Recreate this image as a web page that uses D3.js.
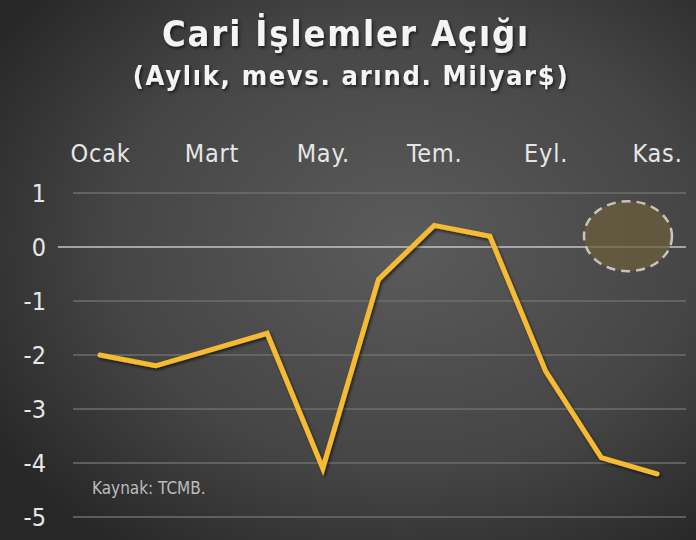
<!DOCTYPE html>
<html>
<head>
<meta charset="utf-8">
<script src="https://cdn.jsdelivr.net/npm/d3@7"></script>
<style>
  html, body { margin: 0; padding: 0; background: #333; }
  svg { display: block; }
</style>
</head>
<body>
<div id="chart"></div>
<script>
// chart data
var months = ['Ocak', 'Şubat', 'Mart', 'Nisan', 'May.', 'Haz.', 'Tem.', 'Ağu.', 'Eyl.', 'Eki.', 'Kas.'];
var deficit = [-2.0, -2.2, -1.9, -1.6, -4.1, -0.6, 0.4, 0.2, -2.3, -3.9, -4.2];
var monthTicks = ['Ocak', 'Mart', 'May.', 'Tem.', 'Eyl.', 'Kas.'];
var yTicks = [1, 0, -1, -2, -3, -4, -5];

var svgWidth = 696;
var svgHeight = 540;

var svg = d3.select('#chart')
    .append('svg')
    .attr('width', svgWidth)
    .attr('height', svgHeight);

var defs = svg.append('defs');

// dark radial background
var grad = defs.append('radialGradient')
    .attr('id', 'bg')
    .attr('cx', '58%').attr('cy', '45%').attr('r', '70%');
grad.append('stop').attr('offset', '0%').attr('stop-color', '#5b5b5b');
grad.append('stop').attr('offset', '60%').attr('stop-color', '#454545');
grad.append('stop').attr('offset', '100%').attr('stop-color', '#272727');

var shadow = defs.append('filter').attr('id', 'shadow')
    .attr('x', '-10%').attr('y', '-20%').attr('width', '120%').attr('height', '150%');
shadow.append('feDropShadow')
    .attr('dx', 1.5).attr('dy', 2).attr('stdDeviation', 1.5)
    .attr('flood-color', '#000').attr('flood-opacity', 0.6);

svg.append('rect')
    .attr('width', svgWidth).attr('height', svgHeight)
    .attr('fill', 'url(#bg)');

// scales
var x = d3.scalePoint().domain(months).range([100, 657]);
var y = d3.scaleLinear().domain([-5, 1]).range([517, 193]);

// titles
svg.append('text')
    .attr('x', 346).attr('y', 46)
    .attr('text-anchor', 'middle')
    .attr('font-family', 'DejaVu Sans Condensed, DejaVu Sans')
    .attr('font-weight', 'bold')
    .attr('font-size', 36)
    .attr('letter-spacing', 1.9)
    .attr('fill', '#f4f4f4')
    .attr('filter', 'url(#shadow)')
    .text('Cari İşlemler Açığı');

svg.append('text')
    .attr('x', 351).attr('y', 85)
    .attr('text-anchor', 'middle')
    .attr('font-family', 'DejaVu Sans Condensed, DejaVu Sans')
    .attr('font-weight', 'bold')
    .attr('font-size', 27)
    .attr('letter-spacing', 1.7)
    .attr('fill', '#f4f4f4')
    .attr('filter', 'url(#shadow)')
    .text('(Aylık, mevs. arınd. Milyar$)');

// gridlines
svg.append('g')
    .selectAll('line')
    .data(yTicks.filter(d => d !== 0))
    .enter()
    .append('line')
    .attr('x1', 73).attr('x2', 686)
    .attr('y1', d => y(d)).attr('y2', d => y(d))
    .attr('stroke', '#6e6e6e')
    .attr('stroke-width', 1.3);

svg.append('line')
    .attr('x1', 58).attr('x2', 686)
    .attr('y1', y(0)).attr('y2', y(0))
    .attr('stroke', '#c4c4c4')
    .attr('stroke-width', 1.6);

// y axis labels (plain hyphen for negatives)
var leftAxis = d3.axisLeft(y).tickValues(yTicks).tickSize(0).tickPadding(0).tickFormat(d => String(d));
var yAxis = svg.append('g')
    .attr('transform', 'translate(46, 0)')
    .call(leftAxis);
yAxis.select('.domain').remove();
yAxis.selectAll('text')
    .attr('font-family', 'DejaVu Sans Condensed, DejaVu Sans')
    .attr('font-size', 25)
    .attr('fill', '#e6e6e6');

// month labels on top
var topAxis = d3.axisTop(x).tickValues(monthTicks).tickSize(0).tickPadding(0);
var xAxis = svg.append('g')
    .attr('transform', 'translate(0, 162)')
    .call(topAxis);
xAxis.select('.domain').remove();
xAxis.selectAll('text')
    .attr('font-family', 'DejaVu Sans Condensed, DejaVu Sans')
    .attr('font-size', 25)
    .attr('letter-spacing', 0.8)
    .attr('fill', '#e6e6e6');

// highlight ellipse
svg.append('ellipse')
    .attr('cx', 628).attr('cy', y(0.2))
    .attr('rx', 44).attr('ry', 35)
    .attr('fill', '#6b5d3c')
    .attr('fill-opacity', 0.75)
    .attr('stroke', '#c9c4b8')
    .attr('stroke-width', 2.5)
    .attr('stroke-dasharray', '9,6');

// line
var line = d3.line()
    .x((d, i) => x(months[i]))
    .y(d => y(d));

svg.append('path')
    .datum(deficit)
    .attr('d', line)
    .attr('fill', 'none')
    .attr('stroke', '#f6bb33')
    .attr('stroke-width', 5)
    .attr('stroke-linejoin', 'miter')
    .attr('stroke-linecap', 'round')
    .attr('filter', 'url(#shadow)');

// source
svg.append('text')
    .attr('x', 92).attr('y', 494)
    .attr('font-family', 'DejaVu Sans Condensed, DejaVu Sans')
    .attr('font-size', 17)
    .attr('fill', '#bdbdbd')
    .text('Kaynak: TCMB.');
</script>
</body>
</html>
